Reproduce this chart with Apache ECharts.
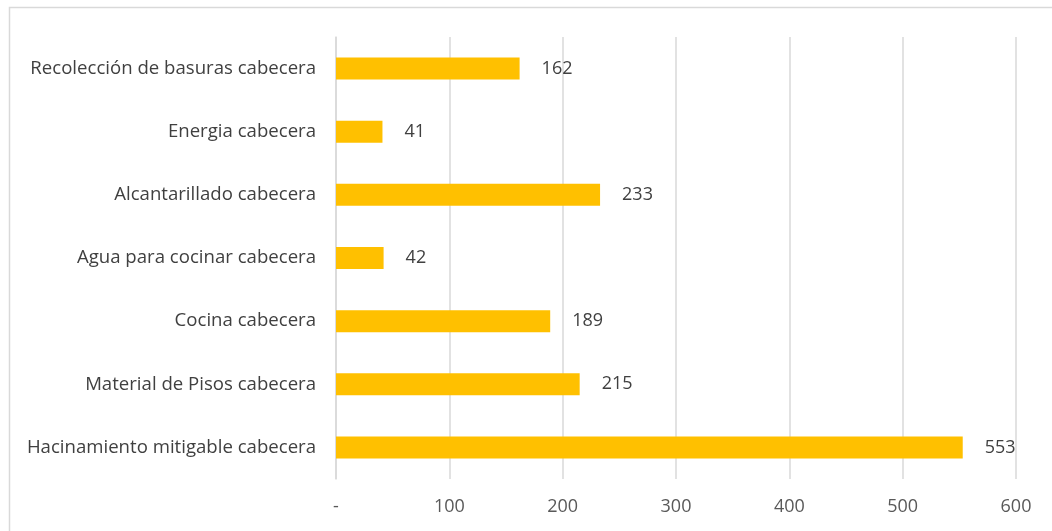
<!DOCTYPE html>
<html>
<head>
<meta charset="utf-8">
<script src="https://cdn.jsdelivr.net/npm/echarts@6/dist/echarts.min.js"></script>
<style>html,body{margin:0;padding:0;background:#fff}#c{width:1052px;height:531px}</style>
</head>
<body>
<div id="c"></div>
<script>
const categories = [
  "Hacinamiento mitigable cabecera",
  "Material de Pisos cabecera",
  "Cocina cabecera",
  "Agua para cocinar cabecera",
  "Alcantarillado cabecera",
  "Energia cabecera",
  "Recolección de basuras cabecera"
];
const values = [553, 215, 189, 42, 233, 41, 162];
const tickLabels = { 0: "-" };

const chart = echarts.init(document.getElementById('c'), null, { renderer: 'canvas' });
const font = "'Open Sans', 'Noto Sans', sans-serif";
chart.setOption({
  animation: false,
  backgroundColor: '#fff',
  graphic: [{
    type: 'rect', silent: true,
    shape: { x: 9.5, y: 7.5, width: 1100, height: 600 },
    style: { fill: 'none', stroke: '#d9d9d9', lineWidth: 1.5 }
  }],
  grid: { left: 336, right: 36, top: 37, bottom: 52, containLabel: false },
  xAxis: {
    type: 'value', min: 0, max: 600, interval: 100,
    axisLine: { show: false }, axisTick: { show: false },
    splitLine: { show: true, lineStyle: { color: '#d9d9d9', width: 1.5 } },
    axisLabel: {
      margin: 19, color: '#595959', fontSize: 18, fontFamily: font,
      formatter: v => (tickLabels[v] !== undefined ? tickLabels[v] : String(v))
    }
  },
  yAxis: {
    type: 'category', data: categories,
    axisLine: { show: true, lineStyle: { color: '#d9d9d9', width: 1.5 } },
    axisTick: { show: false },
    axisLabel: { margin: 20, color: '#404040', fontSize: 18.6, fontFamily: font }
  },
  series: [{
    type: 'bar', data: values, barWidth: 22,
    itemStyle: { color: '#FFC000' },
    label: { show: true, position: 'right', distance: 22, color: '#404040', fontSize: 18, fontFamily: font }
  }]
});
</script>
</body>
</html>
